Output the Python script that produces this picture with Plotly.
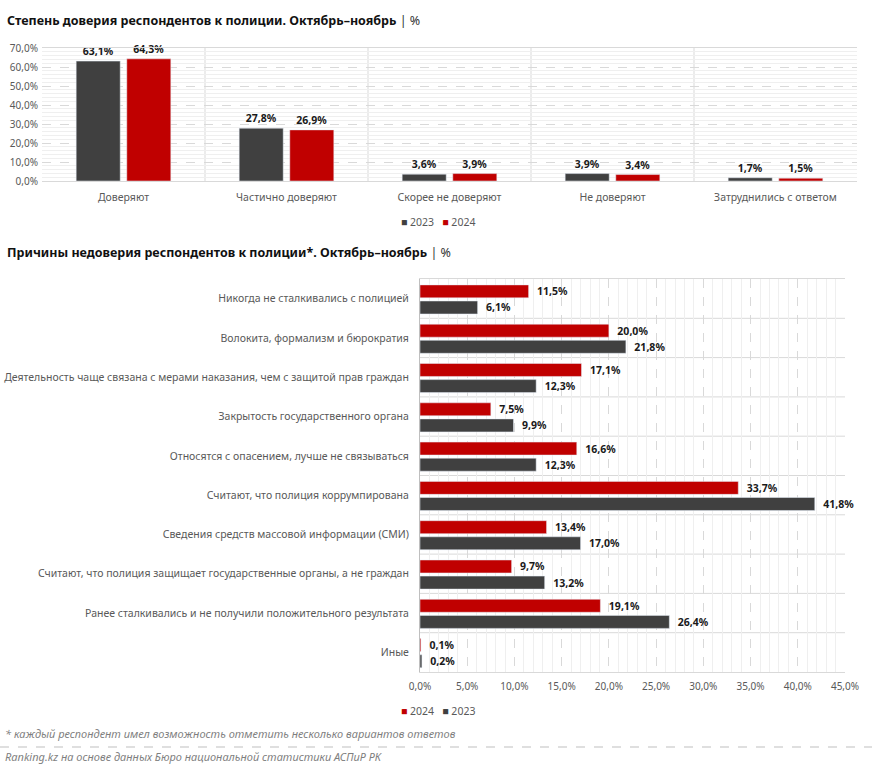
import plotly.graph_objects as go

W, H = 872, 773

# ---- data: chart 1 ----
trust_categories = ["Доверяют", "Частично доверяют", "Скорее не доверяют", "Не доверяют", "Затруднились с ответом"]
trust_2023 = [63.1, 27.8, 3.6, 3.9, 1.7]
trust_2024 = [64.3, 26.9, 3.9, 3.4, 1.5]

# ---- data: chart 2 ----
reasons = [
    "Никогда не сталкивались с полицией",
    "Волокита, формализм и бюрократия",
    "Деятельность чаще связана с мерами наказания, чем с защитой прав граждан",
    "Закрытость государственного органа",
    "Относятся с опасением, лучше не связываться",
    "Считают, что полиция коррумпирована",
    "Сведения средств массовой информации (СМИ)",
    "Считают, что полиция защищает государственные органы, а не граждан",
    "Ранее сталкивались и не получили положительного результата",
    "Иные",
]
reasons_2024 = [11.5, 20.0, 17.1, 7.5, 16.6, 33.7, 13.4, 9.7, 19.1, 0.1]
reasons_2023 = [6.1, 21.8, 12.3, 9.9, 12.3, 41.8, 17.0, 13.2, 26.4, 0.2]

DARK = "#404040"
RED = "#C00000"
GRAY_TXT = "#595959"
FONT = "Noto Sans"

def px_x(p):
    return p / W

def px_y(p):
    return 1 - p / H

fig = go.Figure()

lbl_font = dict(family=FONT, size=10.5, color="#1a1a1a")
NB = "\u00a0\u00a0"

fig.add_trace(go.Bar(
    x=trust_categories, y=trust_2023, name="2023", marker_color=DARK,
    texttemplate="<b>%{y:.1f}%</b>", textposition="outside", textfont=lbl_font,
    constraintext="none", cliponaxis=False, xaxis="x", yaxis="y", showlegend=False,
))
fig.add_trace(go.Bar(
    x=trust_categories, y=trust_2024, name="2024", marker_color=RED,
    texttemplate="<b>%{y:.1f}%</b>", textposition="outside", textfont=lbl_font,
    constraintext="none", cliponaxis=False, xaxis="x", yaxis="y", showlegend=False,
))

fig.add_trace(go.Bar(
    y=reasons, x=reasons_2024, name="2024", orientation="h", marker_color=RED,
    width=0.33, offset=-0.35,
    texttemplate=NB + "<b>%{x:.1f}%</b>", textposition="outside", textfont=lbl_font,
    constraintext="none", cliponaxis=False, xaxis="x2", yaxis="y2", showlegend=False,
))
fig.add_trace(go.Bar(
    y=reasons, x=reasons_2023, name="2023", orientation="h", marker_color=DARK,
    width=0.33, offset=0.06,
    texttemplate=NB + "<b>%{x:.1f}%</b>", textposition="outside", textfont=lbl_font,
    constraintext="none", cliponaxis=False, xaxis="x2", yaxis="y2", showlegend=False,
))

grid_major = "#d9d9d9"
grid_minor = "#efefef"

shapes = []
# vertical separators in chart 1
for i in range(len(trust_categories) - 1):
    shapes.append(dict(type="line", xref="x", yref="y domain", x0=i + 0.5, x1=i + 0.5,
                       y0=0, y1=1, line=dict(color=grid_major, width=1), layer="below"))
# horizontal separators in chart 2
for i in range(len(reasons) - 1):
    shapes.append(dict(type="line", xref="x2 domain", yref="y2", x0=0, x1=1,
                       y0=i + 0.5, y1=i + 0.5, line=dict(color=grid_major, width=1), layer="below"))
# dashed separator above source
shapes.append(dict(type="line", xref="paper", yref="paper", x0=0, x1=1,
                   y0=px_y(747), y1=px_y(747), line=dict(color="#bfbfbf", width=1, dash="dash")))

def legend_text(items):
    parts = []
    for name, col in items:
        parts.append(f'<span style="color:{col}">■</span> {name}')
    return "   ".join(parts)

annotations = [
    dict(text='<b>Степень доверия респондентов к полиции. Октябрь–ноябрь</b> <span style="color:#333333">| %</span>',
         x=px_x(5), y=px_y(20), xref="paper", yref="paper", xanchor="left", yanchor="middle",
         showarrow=False, font=dict(family=FONT, size=12.5, color="#111111")),
    dict(text='<b>Причины недоверия респондентов к полиции*. Октябрь–ноябрь</b> <span style="color:#333333">| %</span>',
         x=px_x(5), y=px_y(253), xref="paper", yref="paper", xanchor="left", yanchor="middle",
         showarrow=False, font=dict(family=FONT, size=12.5, color="#111111")),
    dict(text="<i>* каждый респондент имел возможность отметить несколько вариантов ответов</i>",
         x=px_x(3), y=px_y(733), xref="paper", yref="paper", xanchor="left", yanchor="middle",
         showarrow=False, font=dict(family=FONT, size=11, color="#7f7f7f")),
    dict(text="<i>Ranking.kz на основе данных Бюро национальной статистики АСПиР РК</i>",
         x=px_x(3), y=px_y(756), xref="paper", yref="paper", xanchor="left", yanchor="middle",
         showarrow=False, font=dict(family=FONT, size=11, color="#7f7f7f")),
    dict(text=legend_text([("2023", DARK), ("2024", RED)]),
         x=px_x(438), y=px_y(222), xref="paper", yref="paper", xanchor="center", yanchor="middle",
         showarrow=False, font=dict(family=FONT, size=10.5, color=GRAY_TXT)),
    dict(text=legend_text([("2024", RED), ("2023", DARK)]),
         x=px_x(438), y=px_y(711), xref="paper", yref="paper", xanchor="center", yanchor="middle",
         showarrow=False, font=dict(family=FONT, size=10.5, color=GRAY_TXT)),
]

fig.update_layout(
    width=W, height=H,
    margin=dict(l=0, r=0, t=0, b=0, autoexpand=False),
    paper_bgcolor="white", plot_bgcolor="white",
    separators=", ",
    font=dict(family=FONT, size=10.5, color=GRAY_TXT),
    barmode="group",
    bargap=0.379, bargroupgap=0.13,
    showlegend=False,
    shapes=shapes,
    annotations=annotations,
    xaxis=dict(domain=[px_x(42), px_x(857)], anchor="y", showgrid=False, automargin=False,
               showline=True, linecolor=grid_major, mirror=True, ticks="",
               ticklabelstandoff=6,
               tickfont=dict(family=FONT, size=10.5, color=GRAY_TXT)),
    yaxis=dict(domain=[px_y(181), px_y(48)], anchor="x", range=[0, 70], dtick=10, automargin=False,
               tickformat=".1f", ticksuffix="%", showgrid=True, gridcolor=grid_major,
               griddash="dash", zeroline=False, showline=False,
               ticklabelstandoff=3,
               minor=dict(dtick=2, showgrid=True, gridcolor=grid_minor, griddash="solid"),
               tickfont=dict(family=FONT, size=10, color=GRAY_TXT)),
    xaxis2=dict(domain=[px_x(420), px_x(845)], anchor="y2", range=[0, 45], dtick=5, automargin=False,
                tickformat=".1f", ticksuffix="%", showgrid=True, gridcolor=grid_major,
                griddash="dash", zeroline=False, showline=True, linecolor=grid_major, mirror=True,
                ticklabelstandoff=5,
                minor=dict(dtick=1, showgrid=True, gridcolor=grid_minor, griddash="solid"),
                tickfont=dict(family=FONT, size=10, color=GRAY_TXT)),
    yaxis2=dict(domain=[px_y(672), px_y(279)], anchor="x2", autorange="reversed", automargin=False,
                showgrid=False, showline=True, linecolor="#bfbfbf", ticks="",
                ticklabelstandoff=8,
                tickfont=dict(family=FONT, size=10.5, color=GRAY_TXT)),
)

fig.write_html("out.html", config={"displayModeBar": False},
               post_script="document.body.style.margin='0';")
